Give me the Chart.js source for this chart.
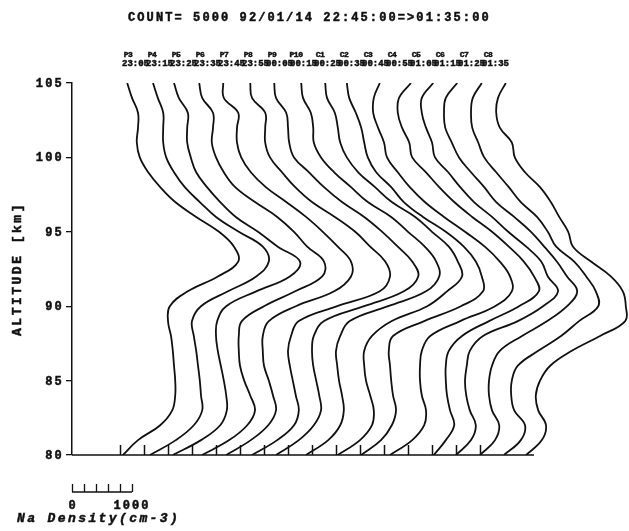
<!DOCTYPE html>
<html>
<head>
<meta charset="utf-8">
<script src="https://cdn.jsdelivr.net/npm/chart.js@4"></script>
<style>
  html, body { margin: 0; padding: 0; background: #fff; }
  #wrap { width: 629px; height: 531px; }
</style>
</head>
<body>
<div id="wrap"><canvas id="chart" width="629" height="531"></canvas></div>
<script>
// Altitude grid (km), top to bottom
const altitudes = [105,104,103,102,101,100,99,98,97,96,95,94,93,92,91,90,89,88,87,86,85,84,83,82,81,80];
const altitudeTicks = [80, 85, 90, 95, 100, 105];

// Profile names, end times and the zero offset (cm-3) of each stacked profile
const profileNames = ['P3','P4','P5','P6','P7','P8','P9','P10','C1','C2','C3','C4','C5','C6','C7','C8'];
const profileTimes = ['23:05','23:15','23:25','23:35','23:45','23:55','00:05','00:15','00:25','00:35','00:45','00:55','01:05','01:15','01:25','01:35'];
const profileOffsets = [800,1200,1600,2000,2400,2800,3200,3600,4000,4400,4800,5200,5600,6000,6400,6800];

// Na density (cm-3), same order as altitudes
const naP3  = [120,200,300,300,280,330,470,670,920,1270,1650,1900,1970,1630,1130,830,800,850,880,900,920,920,870,670,300,50];
const naP4  = [150,230,320,320,320,370,500,680,930,1200,1580,1980,2080,1870,1400,950,800,830,870,900,930,950,970,830,530,100];
const naP5  = [100,180,330,320,320,380,470,650,870,1130,1500,1830,2200,2030,1470,970,820,800,830,880,930,970,980,870,550,80];
const naP6  = [120,170,350,350,330,400,530,720,1050,1420,1700,1920,2200,2170,1720,1200,830,780,780,800,870,970,1050,920,620,170];
const naP7  = [120,130,370,350,350,420,580,830,1170,1500,1780,2030,2250,2250,1970,1330,880,780,780,800,880,950,1000,870,580,170];
const naP8  = [170,200,420,420,420,500,700,920,1200,1580,1920,2170,2420,2500,2330,1620,980,850,800,830,880,930,980,900,620,200];
const naP9  = [170,200,370,400,420,500,750,1000,1300,1670,1970,2230,2470,2570,2330,1670,1000,830,800,820,870,920,950,830,580,200];
const naP10 = [220,250,380,420,430,550,770,1050,1330,1720,2000,2280,2470,2520,2300,1670,1030,870,800,820,850,900,930,870,670,300];
const naC1  = [220,250,380,430,470,580,770,1050,1330,1720,2000,2280,2430,2500,2250,1920,1330,1000,870,870,900,970,1030,1000,800,430];
const naC2  = [180,220,330,420,470,530,670,920,1130,1450,1830,2130,2330,2430,2450,2080,1470,950,880,900,920,950,1000,930,750,420];
const naC3  = [330,230,220,300,400,450,630,830,1080,1400,1750,2080,2330,2500,2530,2250,1670,1170,1030,1000,1000,1030,1100,1070,870,500];
const naC4  = [450,250,230,300,420,470,700,920,1170,1470,1800,2080,2330,2500,2580,2250,1750,1300,1080,1030,1030,1050,1100,1170,1030,830];
const naC5  = [420,230,230,300,400,450,670,870,1100,1400,1670,1970,2220,2330,2500,2250,1830,1250,1030,980,950,970,1030,1130,1050,800];
const naC6  = [420,230,200,220,330,450,650,870,1070,1370,1650,1870,2080,2250,2420,2250,1920,1500,1130,1000,950,950,1000,1120,1050,800];
const naC7  = [430,280,250,270,370,470,670,880,1080,1350,1530,1670,1970,2170,2330,2370,2050,1750,1370,1030,930,920,970,1150,1080,800];
const naC8  = [430,300,270,330,530,580,750,1000,1180,1320,1470,1550,1850,2180,2380,2430,2420,2000,1530,1170,1000,930,970,1100,1030,770];

const profiles = [naP3, naP4, naP5, naP6, naP7, naP8, naP9, naP10, naC1, naC2, naC3, naC4, naC5, naC6, naC7, naC8];

// Density scale bar
const scaleBarTicks = [0, 200, 400, 600, 800, 1000];
const baselineEnd = 7700;

const INK = '#111';
const FONT = '"Liberation Mono", "DejaVu Sans Mono", monospace';

const drawText = (ctx, str, x, y, font, spacing = 0, align = 'left') => {
    ctx.font = font;
    ctx.letterSpacing = spacing + 'px';
    ctx.textAlign = align;
    ctx.fillText(str, x, y);
    ctx.lineWidth = 0.5;
    ctx.strokeText(str, x, y);
};

const overlay = {
    id: 'overlay',
    afterDraw(chart) {
        const { ctx, scales: { x, y } } = chart;
        ctx.save();
        ctx.fillStyle = INK;
        ctx.strokeStyle = INK;
        ctx.textBaseline = 'alphabetic';

        // header
        drawText(ctx, 'COUNT= 5000 92/01/14 22:45:00=>01:35:00', 128, 21, `bold 12px ${FONT}`, 2.1);

        // y tick labels
        altitudeTicks.forEach(a => {
            drawText(ctx, String(a), x.left - 8, y.getPixelForValue(a) + 4, `bold 12px ${FONT}`, 2.2, 'right');
        });

        // y title
        ctx.save();
        ctx.translate(17, (y.top + y.bottom) / 2);
        ctx.rotate(-Math.PI / 2);
        drawText(ctx, 'ALTITUDE [km]', 0, 4, `bold 13px ${FONT}`, 2.5, 'center');
        ctx.restore();

        // baseline with the zero mark of each profile
        const y0 = y.getPixelForValue(80);
        ctx.lineWidth = 1.5;
        ctx.beginPath();
        ctx.moveTo(x.getPixelForValue(0), y0);
        ctx.lineTo(x.getPixelForValue(baselineEnd), y0);
        profileOffsets.forEach(o => {
            const px = Math.round(x.getPixelForValue(o)) + 0.5;
            ctx.moveTo(px, y0);
            ctx.lineTo(px, y0 - 10);
        });
        ctx.stroke();

        // profile labels
        profileOffsets.forEach((o, i) => {
            const px = x.getPixelForValue(o);
            drawText(ctx, profileTimes[i], px + 2, 66, `bold 9px ${FONT}`, 0);
            drawText(ctx, profileNames[i], px + 8, 57, `bold 8px ${FONT}`, -0.5, 'center');
        });

        // density scale bar
        const sb = 492;
        ctx.lineWidth = 1.3;
        ctx.beginPath();
        ctx.moveTo(x.getPixelForValue(scaleBarTicks[0]), sb);
        ctx.lineTo(x.getPixelForValue(scaleBarTicks[scaleBarTicks.length - 1]), sb);
        scaleBarTicks.forEach(t => {
            const px = Math.round(x.getPixelForValue(t)) + 0.5;
            ctx.moveTo(px, sb);
            ctx.lineTo(px, sb - 8);
        });
        ctx.stroke();
        drawText(ctx, '0', x.getPixelForValue(0), 509, `bold 12px ${FONT}`, 0, 'center');
        drawText(ctx, '1000', x.getPixelForValue(1000), 509, `bold 12px ${FONT}`, 2, 'center');
        drawText(ctx, 'Na Density(cm-3)', 17, 522, `italic bold 13px ${FONT}`, 2.4);

        ctx.restore();
    }
};

const datasets = profiles.map((dens, i) => ({
    label: profileNames[i],
    data: altitudes.map((a, j) => ({ x: profileOffsets[i] + dens[j], y: a })),
    borderColor: INK,
    borderWidth: 1.8,
    pointRadius: 0,
    showLine: true,
    fill: false,
    tension: 0.4
}));

new Chart(document.getElementById('chart'), {
    type: 'scatter',
    data: { datasets },
    options: {
        responsive: false,
        animation: false,
        devicePixelRatio: 1,
        layout: { padding: { left: 0, right: 0, top: 83, bottom: 76 } },
        plugins: { legend: { display: false }, tooltip: { enabled: false } },
        scales: {
            x: { type: 'linear', min: 0, max: 9283, display: false },
            y: {
                type: 'linear',
                min: 80,
                max: 105,
                afterFit: s => { s.width = 72; },
                border: { display: true, color: INK, width: 1.5 },
                grid: { drawOnChartArea: false, drawTicks: true, tickLength: 6, color: INK, lineWidth: 1.3 },
                ticks: { stepSize: 5, display: false }
            }
        }
    },
    plugins: [overlay]
});
</script>
</body>
</html>
